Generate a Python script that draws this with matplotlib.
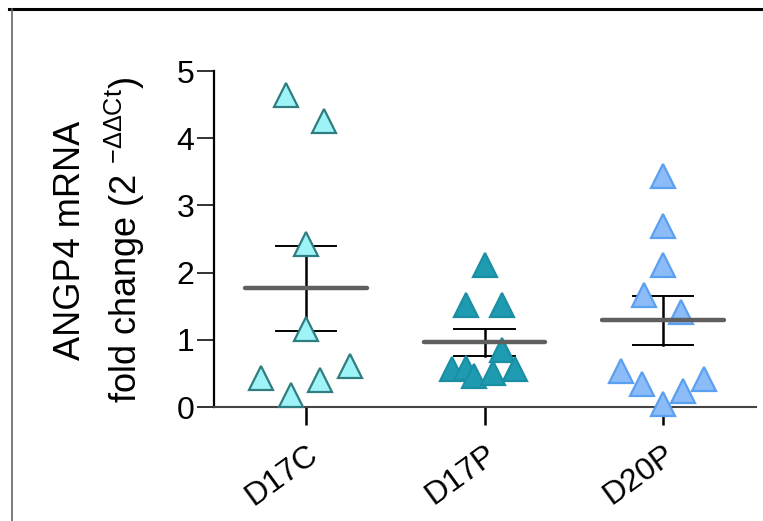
import numpy as np
import matplotlib
matplotlib.use('Agg')
from matplotlib import pyplot
from matplotlib import transforms
from matplotlib.lines import Line2D

groups = ['D17C', 'D17P', 'D20P']
d17c = [4.64, 4.26, 2.43, 1.16, 0.43, 0.18, 0.40, 0.61]
d17p = [2.11, 1.52, 1.52, 0.57, 0.58, 0.46, 0.50, 0.85, 0.56]
d20p = [3.44, 2.69, 2.11, 1.66, 1.41, 0.54, 0.34, 0.04, 0.24, 0.42]
# horizontal scatter of the points inside each column
d17c_dx = [-0.11, 0.10, 0.0, 0.0, -0.25, -0.085, 0.08, 0.245]
d17p_dx = [0.0, -0.105, 0.095, -0.18, -0.105, -0.06, 0.05, 0.095, 0.17]
d20p_dx = [0.0, 0.0, 0.0, -0.105, 0.10, -0.235, -0.12, 0.0, 0.11, 0.23]
face = ['#9df3f5', '#1f9bb1', '#8bbcf7']
edge = ['#2f7d80', '#1a8fa3', '#5b9ff0']


def main():
  pyplot.rcParams['font.family'] = ['Liberation Sans', 'DejaVu Sans']
  pyplot.rcParams['mathtext.default'] = 'regular'
  fig = pyplot.figure(figsize=(7.63, 5.21), dpi=100)
  ax = fig.add_axes([0.2805, 0.2188, 0.7103, 0.6449])

  for i, (vals, dx) in enumerate(zip([d17c, d17p, d20p],
                                     [d17c_dx, d17p_dx, d20p_dx])):
    vals = np.array(vals)
    ax.plot(i + np.array(dx), vals, linestyle='none', marker='^',
            markersize=17, markerfacecolor=face[i], markeredgecolor=edge[i],
            markeredgewidth=1.6, clip_on=False, zorder=3)
    mean = vals.mean()
    sem = vals.std(ddof=1) / np.sqrt(len(vals))
    ax.plot([i - 0.34, i + 0.34], [mean, mean], color='#5f5f5f',
            linewidth=3.2, solid_capstyle='round', zorder=4)
    ax.plot([i, i], [mean - sem, mean + sem], color='black',
            linewidth=1.8, zorder=2)
    for y in (mean - sem, mean + sem):
      ax.plot([i - 0.17, i + 0.17], [y, y], color='black',
              linewidth=1.4, zorder=2)

  ax.set_xlim(-0.515, 2.52)
  ax.set_ylim(0, 5)
  ax.set_yticks(range(6))
  ax.set_xticks(range(3))
  ax.set_xticklabels(groups, rotation=36, ha='right', va='top',
                     rotation_mode='anchor', fontsize=23)
  offset = transforms.ScaledTranslation(16 / 100, -6 / 100, fig.dpi_scale_trans)
  for lab in ax.get_xticklabels():
    lab.set_transform(lab.get_transform() + offset)
  ax.tick_params(axis='y', length=12, width=1.3, labelsize=23, pad=2,
                 color='#222222')
  ax.tick_params(axis='x', length=13, width=1.8, pad=10, color='black')
  for side in ('top', 'right'):
    ax.spines[side].set_visible(False)
  ax.spines['left'].set_linewidth(1.6)
  ax.spines['left'].set_color('black')
  ax.spines['bottom'].set_linewidth(1.5)
  ax.spines['bottom'].set_color('#444444')

  fig.text(0.092, 0.539, 'ANGP4 mRNA', rotation=90, ha='center',
           va='center', fontsize=26)
  fig.text(0.164, 0.539, 'fold change (2 $^{-\u0394\u0394Ct}$)', rotation=90,
           ha='center', va='center', fontsize=26)

  # frame lines of the original panel
  fig.add_artist(Line2D([0.012, 1.0], [0.983, 0.983], color='black',
                        linewidth=2.2, transform=fig.transFigure))
  fig.add_artist(Line2D([0.016, 0.016], [0.0, 0.982], color='#666666',
                        linewidth=1.2, transform=fig.transFigure))

  pyplot.savefig('out.png', dpi=100)

if __name__ == '__main__':
  main()
